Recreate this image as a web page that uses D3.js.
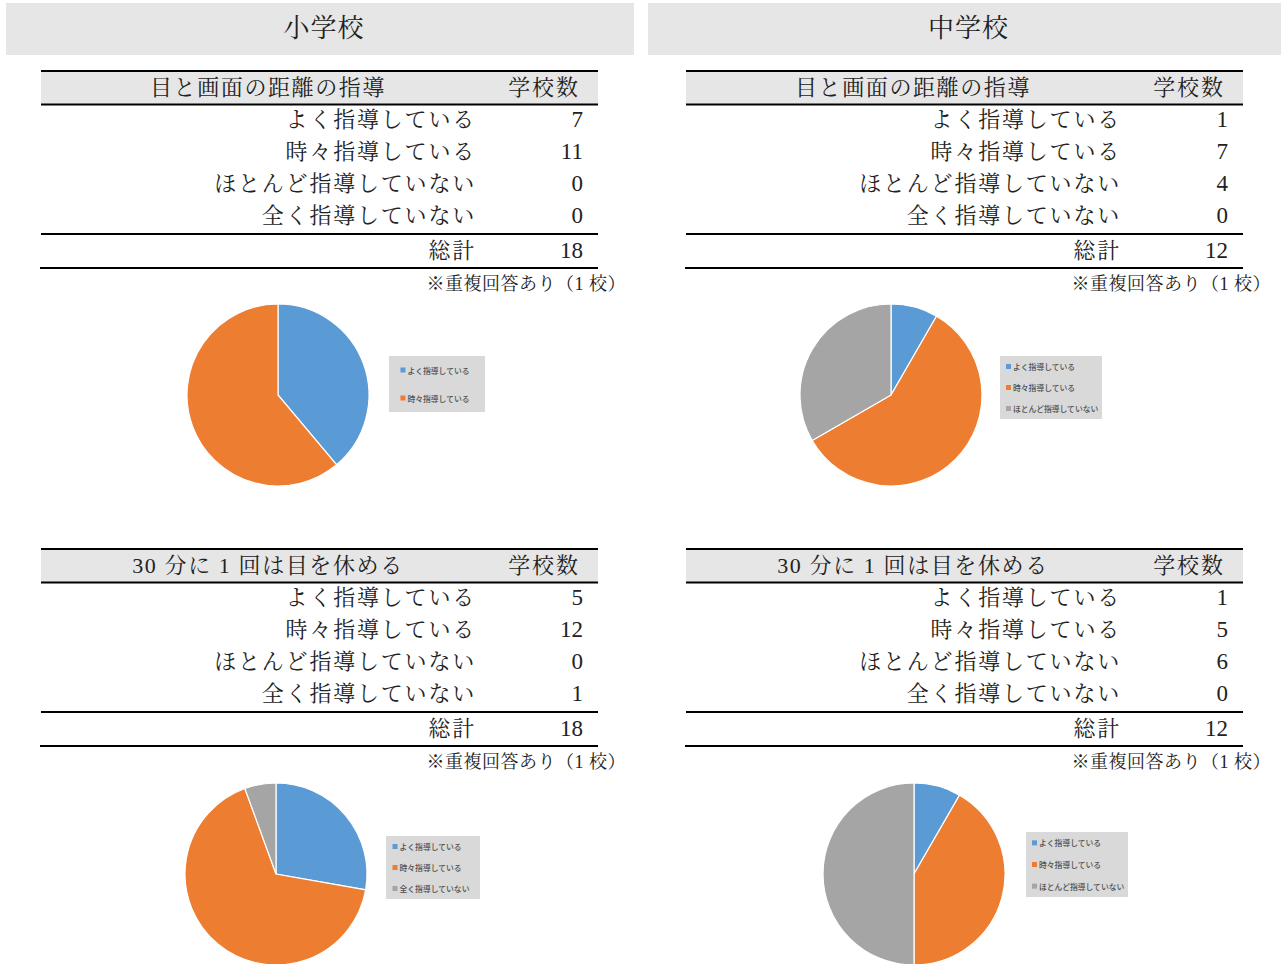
<!DOCTYPE html>
<html>
<head>
<meta charset="utf-8">
<script src="https://cdn.jsdelivr.net/npm/d3@7"></script>
<style>
  html, body { margin: 0; padding: 0; background: #fff; }
  svg { display: block; }
</style>
</head>
<body>
<svg id="chart" width="1284" height="964"></svg>
<script>
// ---- data ----
const schools = ["小学校", "中学校"];
const topics = ["目と画面の距離の指導", "30 分に 1 回は目を休める"];
const responses = ["よく指導している", "時々指導している", "ほとんど指導していない", "全く指導していない"];
const countHeader = "学校数";
const totalLabel = "総計";
const noteText = "※重複回答あり（1 校）";

const elementaryDistance = [7, 11, 0, 0];
const juniorDistance = [1, 7, 4, 0];
const elementaryRest = [5, 12, 0, 1];
const juniorRest = [1, 5, 6, 0];

const sliceColors = ["#5b9bd5", "#ed7d31", "#a5a5a5", "#ffc000"];

// ---- layout ----
const svg = d3.select("#chart");
const serif = "'Liberation Serif', 'Noto Serif CJK JP', 'Noto Sans CJK JP', serif";
const sans = "'Noto Sans CJK JP', 'Noto Sans', sans-serif";

const panels = [
  { title: schools[0], bar: [6, 634], offset: 0 },
  { title: schools[1], bar: [648, 1281], offset: 645 }
];

// pie centre and legend box (relative to the pie centre) for each block
const blocks = [
  { panel: 0, topic: 0, values: elementaryDistance, dy: 0,   pie: [278, 395], legend: { x: 111, y: -39, w: 96,  h: 56 } },
  { panel: 1, topic: 0, values: juniorDistance,     dy: 0,   pie: [891, 395], legend: { x: 109, y: -39, w: 102, h: 63 } },
  { panel: 0, topic: 1, values: elementaryRest,     dy: 478, pie: [276, 874], legend: { x: 110, y: -38, w: 94,  h: 63 } },
  { panel: 1, topic: 1, values: juniorRest,         dy: 478, pie: [914, 874], legend: { x: 112, y: -42, w: 102, h: 65 } }
];

// title bars
panels.forEach(p => {
  svg.append("rect")
    .attr("x", p.bar[0]).attr("y", 3)
    .attr("width", p.bar[1] - p.bar[0]).attr("height", 52)
    .attr("fill", "#e6e6e6");
  svg.append("text")
    .attr("x", (p.bar[0] + p.bar[1]) / 2 + 4).attr("y", 28)
    .attr("text-anchor", "middle").attr("dominant-baseline", "central")
    .attr("font-family", serif).attr("font-size", 26)
    .attr("letter-spacing", 1).attr("fill", "#222")
    .text(p.title);
});

const pie = d3.pie().sort(null).value(d => d.value);
const arc = d3.arc().innerRadius(0).outerRadius(91);

blocks.forEach(b => {
  const ox = panels[b.panel].offset;
  const g = svg.append("g").attr("transform", `translate(${ox},${b.dy})`);
  const x0 = 41, x1 = 598, labelRight = 474, valueRight = 583;

  // header row
  g.append("rect").attr("x", x0).attr("y", 72).attr("width", x1 - x0).attr("height", 32).attr("fill", "#e7e6e6");
  const hline = (y, a, z) => g.append("line")
    .attr("x1", a).attr("x2", z).attr("y1", y).attr("y2", y)
    .attr("stroke", "#000").attr("stroke-width", 2);
  hline(71, x0, x1);
  hline(104.5, x0, x1);
  hline(234, x0, x1);
  hline(268, x0 - 1, x1);

  const txt = (x, y, s, anchor, size, spacing) => g.append("text")
    .attr("x", x).attr("y", y)
    .attr("text-anchor", anchor).attr("dominant-baseline", "central")
    .attr("font-family", serif).attr("font-size", size)
    .attr("letter-spacing", spacing).attr("fill", "#222")
    .text(s);

  txt(268, 87, topics[b.topic], "middle", 22, 1.6);
  txt(544, 87, countHeader, "middle", 22, 1.8);

  const rowY = d3.scalePoint().domain(responses).range([119, 215]);
  responses.forEach((r, i) => {
    txt(labelRight + 2, rowY(r), r, "end", 22, 1.8);
    txt(valueRight, rowY(r), String(b.values[i]), "end", 23, 0);
  });
  txt(labelRight + 2, 250, totalLabel, "end", 22, 1.7);
  txt(valueRight, 250, String(d3.sum(b.values)), "end", 23, 0);
  txt(626, 284, noteText, "end", 18, 0.5);

  // pie of non-zero responses
  const entries = responses
    .map((r, i) => ({ label: r, value: b.values[i] }))
    .filter(d => d.value > 0)
    .map((d, i) => ({ ...d, color: sliceColors[i] }));

  const pg = svg.append("g").attr("transform", `translate(${b.pie[0]},${b.pie[1]})`);
  pg.selectAll("path").data(pie(entries)).join("path")
    .attr("d", arc)
    .attr("fill", d => d.data.color)
    .attr("stroke", "#fff").attr("stroke-width", 1.2);

  // legend
  const L = b.legend;
  const n = entries.length;
  const lg = pg.append("g").attr("transform", `translate(${L.x},${L.y})`);
  lg.append("rect").attr("width", L.w).attr("height", L.h).attr("fill", "#d9d9d9");
  const items = lg.append("g");
  let maxW = 0;
  entries.forEach((e, i) => {
    const y = (i + 0.5) / n * L.h;
    items.append("rect").attr("x", 0).attr("y", y - 2.5).attr("width", 5).attr("height", 5).attr("fill", e.color);
    const t = items.append("text").attr("x", 7).attr("y", y)
      .attr("dominant-baseline", "central")
      .attr("font-family", sans).attr("font-size", 7.8).attr("font-weight", 500)
      .attr("fill", "#505050")
      .text(e.label);
    maxW = Math.max(maxW, t.node().getComputedTextLength());
  });
  const inset = Math.max(6, (L.w - (7 + maxW)) / 2 - 2);
  items.attr("transform", `translate(${inset},0)`);
});
</script>
</body>
</html>
